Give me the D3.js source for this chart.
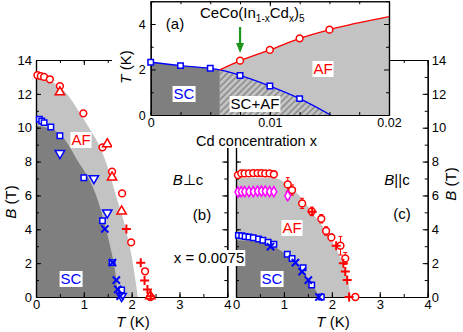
<!DOCTYPE html>
<html>
<head>
<meta charset="utf-8">
<script src="https://cdn.jsdelivr.net/npm/d3@7"></script>
<style>
body { margin: 0; background: #fff; }
text { font-family: "Liberation Sans", Arial, sans-serif; }
</style>
</head>
<body>
<script>
var width = 463, height = 332;
var red = "#ff0000", blue = "#0000ff", magenta = "#ff00ff";
var light = "#c3c3c3", dark = "#7f7f7f";

// ---- inset (a): T vs Cd concentration ----
var tcX = [0, 0.0025, 0.005, 0.0075, 0.01, 0.0125];
var tcT = [2.32, 2.17, 2.05, 1.74, 1.27, 0.72];
var tnX = [0.0075, 0.01, 0.0125, 0.015];
var tnT = [2.39, 2.86, 3.37, 3.75];
var tcLineX = [0, 0.0025, 0.005, 0.0058, 0.0075, 0.01, 0.0125, 0.0151];
var tcLineT = [2.32, 2.17, 2.05, 1.98, 1.74, 1.27, 0.72, 0];
var tnLineX = [0.0058, 0.0075, 0.01, 0.0125, 0.015, 0.02];
var tnLineT = [1.98, 2.39, 2.86, 3.37, 3.75, 4.32];
var insetXTicks = [0, 0.01, 0.02];
var insetYTicks = [0, 2, 4];

// ---- panel (b): B perpendicular c ----
var bCircT = [0.03, 0.1, 0.17, 0.29, 0.5, 0.99, 1.39, 1.59, 1.8, 1.99, 2.28, 2.39];
var bCircB = [13.1, 13.05, 13.0, 12.86, 12.46, 10.85, 8.84, 7.4, 6.12, 3.23, 1.52, 0];
var bTriUpT = [0.5, 1.49, 1.59, 1.79, 2.39];
var bTriUpB = [12.1, 9.03, 7.07, 5.06, 0.05];
var bPlusT = [1.89, 2.19, 2.27, 2.33, 2.4];
var bPlusB = [4.02, 2.03, 0.98, 0.45, 0.05];
var bSqT = [0.07, 0.12, 0.17, 0.31, 0.5, 1.0, 1.39, 1.59, 1.79];
var bSqB = [10.5, 10.4, 10.3, 10.04, 9.53, 7.05, 4.5, 2.03, 0.41];
var bTriDnT = [0.5, 1.21, 1.49, 1.79];
var bTriDnB = [8.49, 7.01, 4.98, 0.05];
var bCrossT = [1.44, 1.6, 1.68, 1.71, 1.76];
var bCrossB = [4.02, 2.03, 1.0, 0.45, 0.05];
var bAfT = [0, 0.3, 0.5, 0.7, 0.92, 1.15, 1.33, 1.54, 1.68, 1.85, 2.0, 2.13];
var bAfB = [12.9, 12.75, 12.4, 11.8, 10.85, 9.8, 8.9, 7.3, 5.9, 4.3, 2.4, 0];
var bScT = [0, 0.3, 0.6, 0.88, 1.1, 1.23, 1.4, 1.55, 1.65, 1.72];
var bScB = [10.1, 9.95, 9.3, 8.0, 7.0, 6.2, 4.7, 3.0, 1.6, 0];

// ---- panel (c): B parallel c ----
var cCircT = [0.04, 0.11, 0.18, 0.27, 0.36, 0.45, 0.53, 0.61, 0.70, 0.79, 1.08, 1.17, 1.38, 1.58, 1.78, 1.88, 1.99, 2.18, 2.28, 2.49];
var cCircB = [7.2, 7.3, 7.3, 7.3, 7.32, 7.32, 7.32, 7.3, 7.3, 7.25, 6.65, 6.32, 5.53, 5.06, 4.62, 3.9, 3.52, 3.03, 2.28, 0];
var cCircErr = [0.1, 0.15, 0.15, 0.15, 0.15, 0.15, 0.15, 0.15, 0.15, 0.2, 0.4, 0.3, 0.3, 0.25, 0.25, 0.25, 0.2, 0.55, 0.35, 0];
var cDiaT = [0.04, 0.11, 0.18, 0.27, 0.36, 0.45, 0.53, 0.61, 0.70, 0.79, 1.08];
var cDiaB = [6.2, 6.22, 6.22, 6.22, 6.22, 6.25, 6.25, 6.25, 6.22, 6.22, 5.98];
var cDiaErr = [0.1, 0.1, 0.1, 0.1, 0.1, 0.1, 0.1, 0.1, 0.1, 0.1, 0.2];
var cPlusT = [1.59, 2.09, 2.24, 2.28, 2.32, 2.36];
var cPlusB = [5.04, 3.03, 1.99, 1.5, 1.0, 0];
var cSqT = [0.05, 0.12, 0.19, 0.27, 0.36, 0.47, 0.56, 0.67, 0.79, 1.07, 1.17, 1.4, 1.58, 1.78];
var cSqB = [3.64, 3.62, 3.58, 3.54, 3.5, 3.43, 3.35, 3.23, 3.11, 2.52, 2.28, 1.73, 0.71, 0];
var cCrossT = [0.72, 1.24, 1.38, 1.51, 1.73];
var cCrossB = [2.97, 2.03, 1.5, 1.0, 0];
var cAfT = [0, 0.7, 0.9, 1.1, 1.35, 1.6, 1.85, 2.02, 2.15, 2.25, 2.33, 2.4];
var cAfB = [7.05, 7.05, 6.95, 6.55, 5.9, 4.95, 4.0, 3.2, 2.5, 1.8, 1.0, 0];
var cScT = [0, 0.4, 0.7, 0.9, 1.1, 1.3, 1.5, 1.65, 1.75];
var cScB = [3.35, 3.3, 3.1, 2.8, 2.35, 1.8, 1.05, 0.45, 0];

var tTicks = [0, 1, 2, 3, 4];
var bTicks = [0, 2, 4, 6, 8, 10, 12, 14];

var svg = d3.select("body").append("svg")
    .attr("width", width).attr("height", height)
    .style("background", "#fff");

var defs = svg.append("defs");
var pat = defs.append("pattern").attr("id", "hatch")
    .attr("patternUnits", "userSpaceOnUse").attr("width", 4.5).attr("height", 4.5)
    .attr("patternTransform", "rotate(45)");
pat.append("rect").attr("width", 4.5).attr("height", 4.5).attr("fill", light);
pat.append("line").attr("x1", 1).attr("y1", 0).attr("x2", 1).attr("y2", 4.5)
    .attr("stroke", "#8c8c8c").attr("stroke-width", 1.6);

function zip(a, b) { return a.map(function(v, i) { return [v, b[i]]; }); }

var yB = d3.scaleLinear().domain([0, 14]).range([297, 60]);

function region(g, x, y, ts, bs, fill) {
    var area = d3.area().x(function(d) { return x(d[0]); })
        .y0(y(0)).y1(function(d) { return y(d[1]); })
        .curve(d3.curveMonotoneX);
    g.append("path").attr("d", area(zip(ts, bs))).attr("fill", fill);
}

function markers(g, x, y, ts, bs, kind, color) {
    var pts = zip(ts, bs);
    var sel = g.append("g").selectAll("path").data(pts).enter().append("path")
        .attr("transform", function(d) { return "translate(" + x(d[0]) + "," + y(d[1]) + ")"; })
        .attr("stroke", color).attr("stroke-width", 1.5);
    if (kind === "circle") sel.attr("d", d3.symbol(d3.symbolCircle, 36)()).attr("fill", "#fff");
    if (kind === "square") sel.attr("d", d3.symbol(d3.symbolSquare, 30)()).attr("fill", "#fff");
    if (kind === "diamond") sel.attr("d", d3.symbol(d3.symbolDiamond, 30)()).attr("fill", "#fff");
    if (kind === "triup") sel.attr("d", d3.symbol(d3.symbolTriangle, 38)()).attr("fill", "#fff");
    if (kind === "tridown") sel.attr("d", d3.symbol(d3.symbolTriangle, 38)()).attr("fill", "#fff")
        .attr("transform", function(d) { return "translate(" + x(d[0]) + "," + y(d[1]) + ") rotate(180)"; });
    if (kind === "plus") sel.attr("d", "M-4.5,0H4.5M0,-4.5V4.5").attr("fill", "none").attr("stroke-width", 2);
    if (kind === "cross") sel.attr("d", "M-3.6,-3.6L3.6,3.6M-3.6,3.6L3.6,-3.6").attr("fill", "none").attr("stroke-width", 2);
}

function errbars(g, x, y, ts, bs, es, color) {
    var pts = ts.map(function(t, i) { return [t, bs[i], es[i]]; }).filter(function(d) { return d[2] > 0; });
    g.append("g").selectAll("path").data(pts).enter().append("path")
        .attr("d", function(d) {
            var cx = x(d[0]), y1 = y(d[1] + d[2]), y2 = y(d[1] - d[2]);
            return "M" + cx + "," + y1 + "V" + y2 + "M" + (cx - 2) + "," + y1 + "H" + (cx + 2) + "M" + (cx - 2) + "," + y2 + "H" + (cx + 2);
        })
        .attr("stroke", color).attr("stroke-width", 1).attr("fill", "none");
}

function boxedText(g, x, y, str, color, size) {
    var t = g.append("text").attr("x", x).attr("y", y).attr("text-anchor", "middle")
        .attr("font-size", size).attr("fill", color).text(str);
    var bb = t.node().getBBox();
    g.insert("rect", function() { return t.node(); })
        .attr("x", bb.x - 1).attr("y", bb.y + 1).attr("width", bb.width + 2).attr("height", bb.height - 1)
        .attr("fill", "#fff");
    return t;
}

function frame(g, x, y, opts) {
    var minorT = d3.range(0, 4.01, 0.5), minorB = d3.range(0, 14.01, 1);
    var bottom = g.append("g").attr("transform", "translate(0," + y(0) + ")");
    bottom.call(d3.axisBottom(x).tickValues(minorT).tickFormat("").tickSize(-3).tickSizeOuter(0));
    bottom.append("g").call(d3.axisBottom(x).tickValues(tTicks).tickFormat(d3.format("d")).tickSize(-5).tickSizeOuter(0).tickPadding(3));
    var top = g.append("g").attr("transform", "translate(0," + y(14) + ")");
    top.call(d3.axisTop(x).tickValues(minorT).tickFormat("").tickSize(-3).tickSizeOuter(0));
    top.append("g").call(d3.axisTop(x).tickValues(tTicks).tickFormat("").tickSize(-5).tickSizeOuter(0));
    var left = g.append("g").attr("transform", "translate(" + x(0) + ",0)");
    left.call(d3.axisLeft(y).tickValues(minorB).tickFormat("").tickSize(-3).tickSizeOuter(0));
    left.append("g").call(d3.axisLeft(y).tickValues(bTicks).tickFormat(opts.leftLabels ? d3.format("d") : "").tickSize(-5).tickSizeOuter(0).tickPadding(4));
    var right = g.append("g").attr("transform", "translate(" + x(4) + ",0)");
    right.call(d3.axisRight(y).tickValues(minorB).tickFormat("").tickSize(-3).tickSizeOuter(0));
    right.append("g").call(d3.axisRight(y).tickValues(bTicks).tickFormat(opts.rightLabels ? d3.format("d") : "").tickSize(-5).tickSizeOuter(0).tickPadding(4));
    g.selectAll(".domain").attr("stroke", "#000").attr("stroke-width", 1.2);
    g.selectAll(".tick line").attr("stroke", "#000");
    g.selectAll(".tick text").attr("font-size", 13).attr("font-family", "Liberation Sans, Arial, sans-serif").attr("fill", "#000");
}

// ---------- panel (b) ----------
var xb = d3.scaleLinear().domain([0, 4]).range([36, 227.3]);
var gb = svg.append("g");
region(gb, xb, yB, bAfT, bAfB, light);
region(gb, xb, yB, bScT, bScB, dark);
frame(gb, xb, yB, { leftLabels: true, rightLabels: false });
markers(gb, xb, yB, bCircT, bCircB, "circle", red);
markers(gb, xb, yB, bTriUpT, bTriUpB, "triup", red);
markers(gb, xb, yB, bPlusT, bPlusB, "plus", red);
markers(gb, xb, yB, bSqT, bSqB, "square", blue);
markers(gb, xb, yB, bTriDnT, bTriDnB, "tridown", blue);
markers(gb, xb, yB, bCrossT, bCrossB, "cross", blue);
boxedText(gb, 81, 145, "AF", red, 15);
boxedText(gb, 71, 284, "SC", blue, 15);
var tb = gb.append("text").attr("x", 188).attr("y", 185).attr("text-anchor", "middle").attr("font-size", 15);
tb.append("tspan").attr("font-style", "italic").text("B");
tb.append("tspan").text("\u22A5c");
gb.append("text").attr("x", 202).attr("y", 220).attr("text-anchor", "middle").attr("font-size", 15).text("(b)");

// ---------- panel (c) ----------
var xc = d3.scaleLinear().domain([0, 4]).range([236, 427.7]);
var gc = svg.append("g");
region(gc, xc, yB, cAfT, cAfB, light);
region(gc, xc, yB, cScT, cScB, dark);
frame(gc, xc, yB, { leftLabels: false, rightLabels: true });
errbars(gc, xc, yB, cCircT, cCircB, cCircErr, red);
errbars(gc, xc, yB, cDiaT, cDiaB, cDiaErr, magenta);
markers(gc, xc, yB, cCircT, cCircB, "circle", red);
markers(gc, xc, yB, cDiaT, cDiaB, "diamond", magenta);
markers(gc, xc, yB, cPlusT, cPlusB, "plus", red);
markers(gc, xc, yB, cSqT, cSqB, "square", blue);
markers(gc, xc, yB, cCrossT, cCrossB, "cross", blue);
boxedText(gc, 292, 233, "AF", red, 15);
boxedText(gc, 272, 284, "SC", blue, 15);
var tc = gc.append("text").attr("x", 397).attr("y", 185).attr("text-anchor", "middle").attr("font-size", 15);
tc.append("tspan").attr("font-style", "italic").text("B");
tc.append("tspan").text("||c");
gc.append("text").attr("x", 402).attr("y", 219).attr("text-anchor", "middle").attr("font-size", 15).text("(c)");

// axis titles of main panels
function bTitle(x, y) {
    var t = svg.append("text").attr("transform", "translate(" + x + "," + y + ") rotate(-90)")
        .attr("text-anchor", "middle").attr("font-size", 15);
    t.append("tspan").attr("font-style", "italic").text("B");
    t.append("tspan").text(" (T)");
}
bTitle(16, 202);
bTitle(456, 184);
function tTitle(x, y) {
    var t = svg.append("text").attr("x", x).attr("y", y).attr("text-anchor", "middle").attr("font-size", 15);
    t.append("tspan").attr("font-style", "italic").text("T");
    t.append("tspan").text(" (K)");
}
tTitle(133, 327);
tTitle(333, 327);

boxedText(svg, 209, 263, "x = 0.0075", "#000", 15);

// ---------- inset (a) ----------
var ga = svg.append("g");
ga.append("rect").attr("x", 112).attr("y", 0).attr("width", 277).attr("height", 148).attr("fill", "#fff");
var xa = d3.scaleLinear().domain([0, 0.02]).range([150.7, 389]);
var ya = d3.scaleLinear().domain([0, 5]).range([115, 1.25]);
region(ga, xa, ya, tnLineX, tnLineT, light);
region(ga, xa, ya, tcLineX.slice(3), tcLineT.slice(3), "url(#hatch)");
region(ga, xa, ya, tcLineX.slice(0, 4), tcLineT.slice(0, 4), dark);

var lineA = d3.line().x(function(d) { return xa(d[0]); }).y(function(d) { return ya(d[1]); }).curve(d3.curveMonotoneX);
ga.append("path").attr("d", lineA(zip(tcLineX, tcLineT))).attr("fill", "none").attr("stroke", blue).attr("stroke-width", 1.3);
ga.append("path").attr("d", lineA(zip(tnLineX, tnLineT))).attr("fill", "none").attr("stroke", red).attr("stroke-width", 1.3);

var ab = ga.append("g").attr("transform", "translate(0," + ya(0) + ")");
ab.call(d3.axisBottom(xa).tickValues(d3.range(0, 0.0201, 0.0025)).tickFormat("").tickSize(-3).tickSizeOuter(0));
ab.append("g").call(d3.axisBottom(xa).tickValues(insetXTicks).tickFormat(function(d) { return d === 0 ? "0" : d3.format(".2f")(d); }).tickSize(-5).tickSizeOuter(0).tickPadding(3));
var at = ga.append("g").attr("transform", "translate(0," + ya(5) + ")");
at.call(d3.axisTop(xa).tickValues(d3.range(0, 0.0201, 0.0025)).tickFormat("").tickSize(-3).tickSizeOuter(0));
at.append("g").call(d3.axisTop(xa).tickValues(insetXTicks).tickFormat("").tickSize(-5).tickSizeOuter(0));
var al = ga.append("g").attr("transform", "translate(" + xa(0) + ",0)");
al.call(d3.axisLeft(ya).tickValues([1, 3, 5]).tickFormat("").tickSize(-3).tickSizeOuter(0));
al.append("g").call(d3.axisLeft(ya).tickValues(insetYTicks).tickFormat(d3.format("d")).tickSize(-5).tickSizeOuter(0).tickPadding(5));
var ar = ga.append("g").attr("transform", "translate(" + xa(0.02) + ",0)");
ar.call(d3.axisRight(ya).tickValues([1, 3, 5]).tickFormat("").tickSize(-3).tickSizeOuter(0));
ar.append("g").call(d3.axisRight(ya).tickValues(insetYTicks).tickFormat("").tickSize(-5).tickSizeOuter(0));
ga.selectAll(".domain").attr("stroke", "#000").attr("stroke-width", 1.2);
ga.selectAll(".tick line").attr("stroke", "#000");
ga.selectAll(".tick text").attr("font-size", 12.5).attr("font-family", "Liberation Sans, Arial, sans-serif").attr("fill", "#000");

markers(ga, xa, ya, tcX, tcT, "square", blue);
markers(ga, xa, ya, tnX, tnT, "circle", red);

// green arrow at x = 0.0075
var arrowX = xa(tnX[0]);
ga.append("line").attr("x1", arrowX).attr("y1", 27).attr("x2", arrowX).attr("y2", 45)
    .attr("stroke", "#1e961e").attr("stroke-width", 2.2);
ga.append("path").attr("d", "M" + (arrowX - 4) + ",43L" + (arrowX + 4) + ",43L" + arrowX + ",53Z").attr("fill", "#1e961e");

boxedText(ga, 184, 99, "SC", blue, 15);
boxedText(ga, 255, 109, "SC+AF", "#000", 15);
boxedText(ga, 323, 74, "AF", red, 15);
ga.append("text").attr("x", 175).attr("y", 29).attr("text-anchor", "middle").attr("font-size", 15).text("(a)");

var ttl = ga.append("text").attr("x", 200).attr("y", 18).attr("font-size", 15);
ttl.append("tspan").text("CeCo(In");
ttl.append("tspan").attr("font-size", 10).attr("dy", 4).text("1-x");
ttl.append("tspan").attr("dy", -4).text("Cd");
ttl.append("tspan").attr("font-size", 10).attr("dy", 4).text("x");
ttl.append("tspan").attr("dy", -4).text(")");
ttl.append("tspan").attr("font-size", 10).attr("dy", 4).text("5");

var ayt = ga.append("text").attr("transform", "translate(131,67) rotate(-90)")
    .attr("text-anchor", "middle").attr("font-size", 15);
ayt.append("tspan").attr("font-style", "italic").text("T");
ayt.append("tspan").text(" (K)");
ga.append("text").attr("x", 196).attr("y", 145.5).attr("font-size", 14.5).text("Cd concentration x");
</script>
</body>
</html>
